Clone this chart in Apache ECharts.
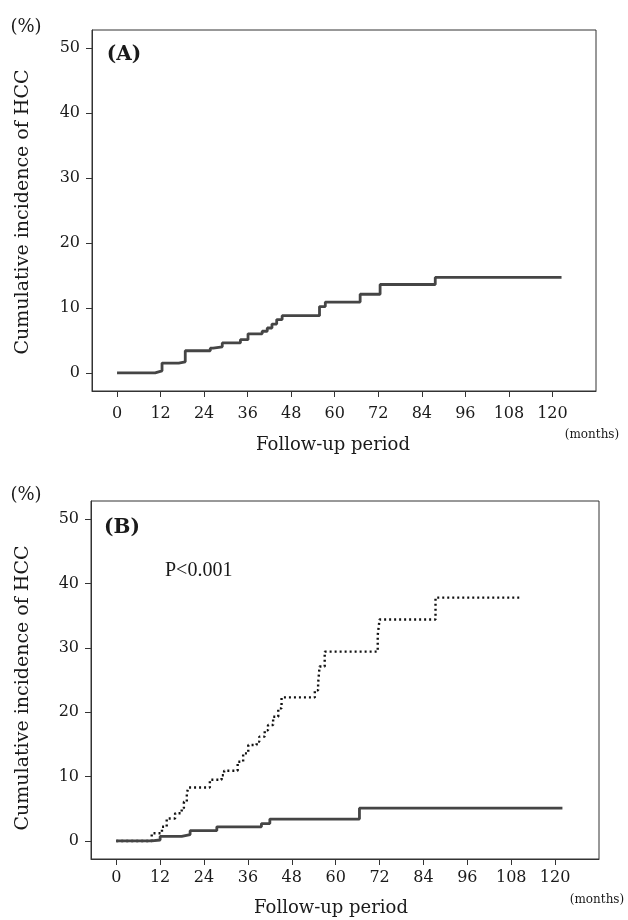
<!DOCTYPE html>
<html>
<head>
<meta charset="utf-8">
<script src="https://cdn.jsdelivr.net/npm/echarts@6/dist/echarts.min.js"></script>
<style>
  html, body { margin: 0; padding: 0; background: #fff; }
  #chart { width: 628px; height: 920px; }
</style>
</head>
<body>
<div id="chart"></div>
<script>
// tick labels
const monthTicks = [0, 12, 24, 36, 48, 60, 72, 84, 96, 108, 120]
const pctTicks = [0, 10, 20, 30, 40, 50]

// (A) all patients: [month, cumulative %]
const allPatients = [
  [0, 0], [10.5, 0.3], [12.4, 1.5], [17, 1.7], [18.8, 3.4], [25.7, 3.8], [26.5, 4.0],
  [29, 4.6], [34, 5.1], [36.1, 6.0], [40, 6.4], [41.4, 6.9], [42.7, 7.5], [44, 8.2],
  [45.5, 8.8], [55.8, 10.2], [57.4, 10.9], [67, 12.1], [72.5, 13.6], [87.7, 14.7], [122.5, 14.7]
]

// (B) solid group
const groupSolid = [
  [0, 0], [9.7, 0.15], [12, 0.7], [17.9, 1.0], [20.2, 1.6], [27.5, 2.2], [39.7, 2.7],
  [42, 3.4], [66.5, 5.1], [122, 5.1]
]

// (B) dotted group
const groupDotted = [
  [0, 0], [9.7, 1.2], [12.5, 2.2], [13.8, 3.5], [16.1, 4.3], [17.9, 5.1], [18.5, 6.1],
  [19.3, 7.4], [19.7, 8.3], [25.6, 9.5], [28.8, 10.2], [29.5, 10.9], [33.2, 12.3],
  [34.7, 13.6], [36.1, 14.9], [38.4, 15.4], [39.1, 16.2], [40.6, 17.2], [41.5, 18.0],
  [42.9, 19.3], [44.3, 20.6], [45.2, 22.3], [54.3, 23.4], [55.2, 24.5], [55.6, 27.1],
  [57, 29.4], [71.5, 32.0], [72, 34.4], [87.3, 37.8], [110.2, 37.8]
]

const serif = 'DejaVu Serif'
const ink = '#1a1a1a'

function xAxisFor(idx, margin) {
  return {
    type: 'value', gridIndex: idx, min: -6.9, max: 132,
    axisLine: { onZero: false, lineStyle: { color: '#333', width: 1 } },
    axisTick: { customValues: monthTicks, length: 6, lineStyle: { color: '#333' } },
    axisLabel: { customValues: monthTicks, margin: margin, color: ink, fontFamily: serif, fontSize: 16 },
    splitLine: { show: false }
  }
}

function yAxisFor(idx) {
  return {
    type: 'value', gridIndex: idx, min: -2.8, max: 52.8,
    axisLine: { show: true, onZero: false, lineStyle: { color: '#333', width: 1 } },
    axisTick: { show: true, customValues: pctTicks, length: 6, lineStyle: { color: '#333' } },
    axisLabel: { customValues: pctTicks, margin: 12, color: ink, fontFamily: serif, fontSize: 16 },
    splitLine: { show: false }
  }
}

function label(x, y, text, size, extra) {
  return Object.assign({
    type: 'text', x: x, y: y,
    style: { text: text, fill: ink, font: size + 'px "' + serif + '"', textAlign: 'center', textVerticalAlign: 'middle' }
  }, extra || {})
}

let chart = echarts.init(document.getElementById('chart'))
chart.setOption({
  animation: false,
  backgroundColor: '#fff',
  grid: [
    { left: 92, top: 30, width: 504, height: 361, show: true, borderColor: '#333', borderWidth: 1 },
    { left: 91, top: 501, width: 508, height: 358, show: true, borderColor: '#333', borderWidth: 1 }
  ],
  xAxis: [xAxisFor(0, 15), xAxisFor(1, 11)],
  yAxis: [yAxisFor(0), yAxisFor(1)],
  graphic: [
    label(26, 27, '(%)', 18),
    label(23, 212, 'Cumulative incidence of HCC', 19, { rotation: Math.PI / 2 }),
    label(333, 445, 'Follow-up period', 18),
    label(592, 435, '(months)', 12),
    {
      type: 'text', x: 124, y: 55,
      style: { text: '(A)', fill: ink, font: 'bold 20px "' + serif + '"', textAlign: 'center', textVerticalAlign: 'middle' }
    },
    label(26, 495, '(%)', 18),
    label(23, 688, 'Cumulative incidence of HCC', 19, { rotation: Math.PI / 2 }),
    label(331, 908, 'Follow-up period', 18),
    label(597, 900, '(months)', 12),
    {
      type: 'text', x: 122, y: 528,
      style: { text: '(B)', fill: ink, font: 'bold 20px "' + serif + '"', textAlign: 'center', textVerticalAlign: 'middle' }
    },
    {
      type: 'text', x: 165, y: 571,
      style: { text: 'P<0.001', fill: ink, font: '20px "Liberation Serif"', textAlign: 'left', textVerticalAlign: 'middle' }
    }
  ],
  series: [
    {
      type: 'line', xAxisIndex: 0, yAxisIndex: 0, step: 'end', showSymbol: false,
      data: allPatients,
      lineStyle: { color: '#454545', width: 2.8 }
    },
    {
      type: 'line', xAxisIndex: 1, yAxisIndex: 1, step: 'end', showSymbol: false,
      data: groupDotted,
      lineStyle: { color: '#111', width: 2.4, type: [2, 3] }
    },
    {
      type: 'line', xAxisIndex: 1, yAxisIndex: 1, step: 'end', showSymbol: false,
      data: groupSolid,
      lineStyle: { color: '#454545', width: 2.8 }
    }
  ]
})
</script>
</body>
</html>
